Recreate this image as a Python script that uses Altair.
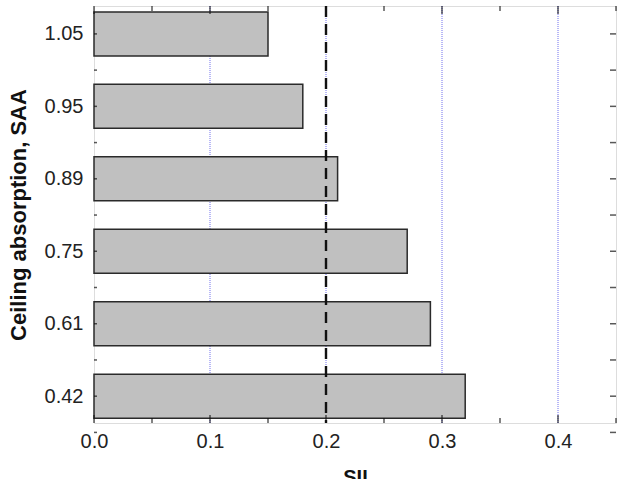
import altair as alt
import pandas as pd

# data
categories = ["0.42", "0.61", "0.75", "0.89", "0.95", "1.05"]
sii_values = [0.32, 0.29, 0.27, 0.21, 0.18, 0.15]
blue_refs = [0.1, 0.2, 0.3, 0.4]
dash_ref = [0.2]
x_major = [0.0, 0.1, 0.2, 0.3, 0.4]
x_minor = [0.05, 0.15, 0.25, 0.35, 0.45]

df = pd.DataFrame({"label": categories, "sii": sii_values,
                   "pos": list(range(1, len(categories) + 1))})
y_ticks = [p / 2 for p in range(1, 2 * len(categories) + 2)]

W, H = 522, 417
FONT = "Liberation Sans"
xscale = alt.Scale(domain=[0, 0.45], nice=False, zero=False, padding=0)
yscale = alt.Scale(domain=[0.63, 6.385], nice=False, zero=False, padding=0)

label_arr = "[" + ",".join("'%s'" % c for c in categories) + "]"

bars = alt.Chart(df).mark_bar(orient="horizontal", size=44, fill="#c0c0c0",
                              stroke="#2a2a2a", strokeWidth=1.5).encode(
    x=alt.X("sii:Q", scale=xscale, axis=alt.Axis(
        orient="bottom", values=x_major, format=".1f", ticks=False, domain=False,
        grid=False, labelFlush=False, labelFontSize=20, labelFont=FONT,
        labelColor="#222", labelPadding=8, title="SII", titleFont=FONT,
        titleFontSize=20, titleFontWeight="bold", titlePadding=16, titleColor="#111")),
    y=alt.Y("pos:Q", scale=yscale, axis=alt.Axis(
        orient="left", values=list(df["pos"]), labelExpr=label_arr + "[datum.value-1]",
        ticks=False, domain=False, grid=False, labelFlush=False, labelFontSize=20,
        labelFont=FONT, labelColor="#222", labelPadding=11,
        title="Ceiling absorption, SAA", titleFont=FONT, titleFontSize=22,
        titleFontWeight="bold", titlePadding=14, titleColor="#111")),
)

grid = alt.Chart(pd.DataFrame({"v": blue_refs})).mark_rule(
    color="#7070ee", strokeWidth=1, strokeDash=[1, 1]).encode(
    x=alt.X("v:Q", scale=xscale))

dash = alt.Chart(pd.DataFrame({"v": dash_ref})).mark_rule(
    color="#111", strokeWidth=2.4, strokeDash=[11, 7]).encode(
    x=alt.X("v:Q", scale=xscale))


def xticks(vals, ypix, size):
    return alt.Chart(pd.DataFrame({"v": vals})).mark_tick(
        orient="vertical", size=size, thickness=1.5, color="#111").encode(
        x=alt.X("v:Q", scale=xscale), y=alt.value(ypix))


def yticks(vals, xpix, size):
    return alt.Chart(pd.DataFrame({"v": vals})).mark_tick(
        orient="horizontal", size=size, thickness=1.5, color="#111").encode(
        y=alt.Y("v:Q", scale=yscale), x=alt.value(xpix))


chart = alt.layer(
    grid, bars, dash,
    xticks(x_major, 4, 8), xticks(x_minor, 2.5, 5),
    xticks(x_major, H - 4, 8), xticks(x_minor, H - 2.5, 5),
    yticks(y_ticks, 1.5, 3), yticks(y_ticks, W - 3, 6),
).properties(
    width=W, height=H,
    autosize=alt.AutoSizeParams(type="none"),
    padding={"left": 94, "top": 6, "right": 5, "bottom": 56},
).configure_view(stroke="#111", strokeWidth=1.6).configure(background="white")

chart.save("out.html", embed_options={"renderer": "svg", "actions": False})
